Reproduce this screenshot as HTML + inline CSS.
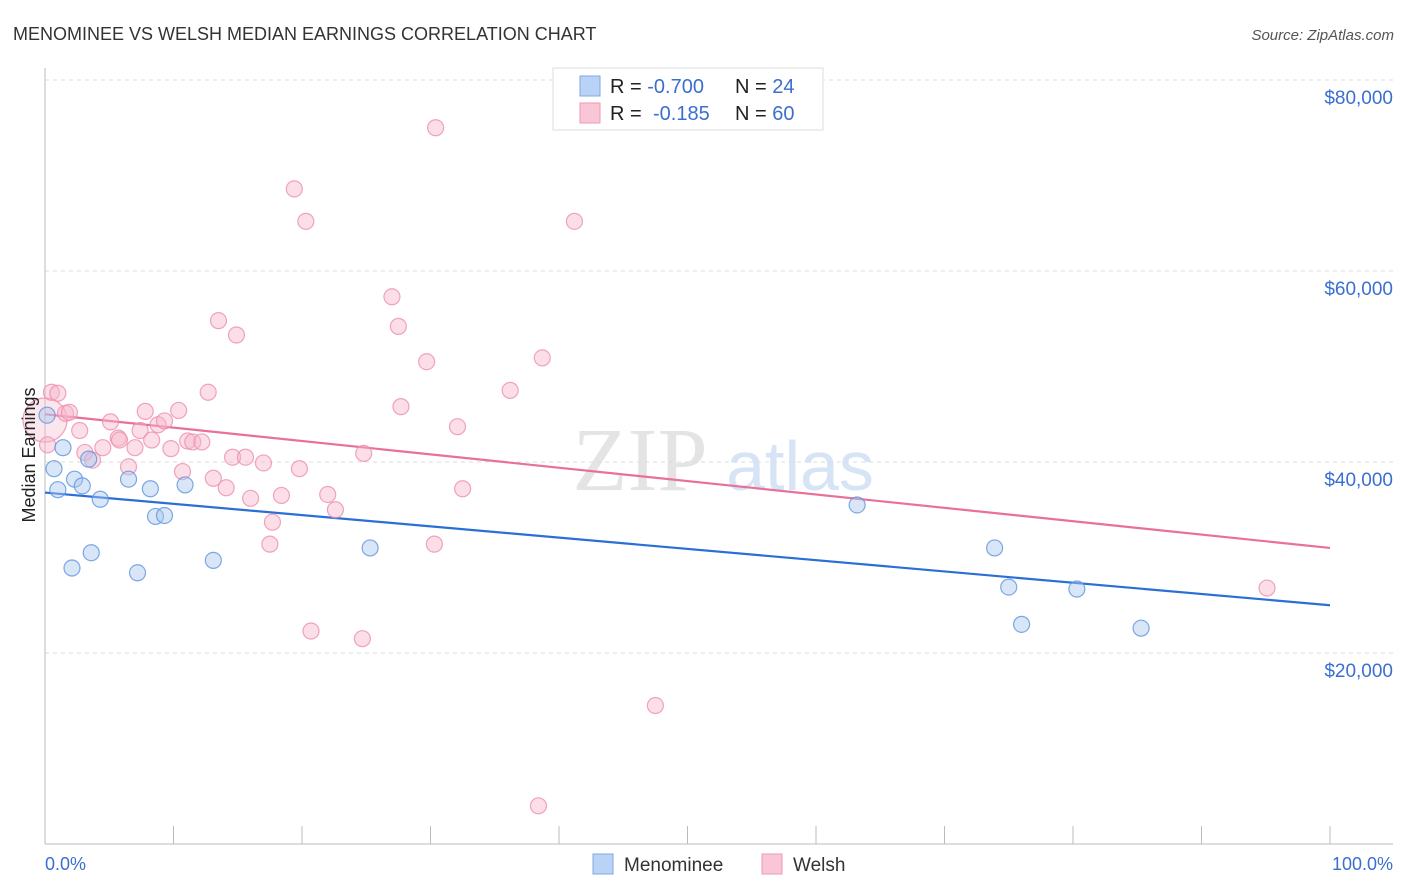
<!DOCTYPE html>
<html><head><meta charset="utf-8"><style>
body{margin:0;background:#fff;font-family:"Liberation Sans",sans-serif;}
svg{display:block}
</style></head><body>
<svg id="chart" width="1406" height="892">
<text x="13" y="40" font-size="18" fill="#333">MENOMINEE VS WELSH MEDIAN EARNINGS CORRELATION CHART</text>
<text x="1394" y="40" font-size="15" fill="#555" font-style="italic" text-anchor="end">Source: ZipAtlas.com</text>
<text x="640" y="490" font-size="90" fill="#e4e4e4" font-family="Liberation Serif,serif" text-anchor="middle">ZIP</text>
<text x="800" y="490" font-size="70" fill="#d6e4f5" text-anchor="middle">atlas</text>
<g id="grid"></g>
<g id="axes"></g>
<g id="lines"></g>
<g id="pts"></g>
<text x="35" y="455" font-size="18" fill="#222" text-anchor="middle" transform="rotate(-90 35 455)">Median Earnings</text>
<text x="45" y="870" font-size="18" fill="#3a6fd0">0.0%</text>
<text x="1393" y="870" font-size="18" fill="#3a6fd0" text-anchor="end">100.0%</text>
<g>
<rect x="553" y="68" width="270" height="62" fill="#fff" stroke="#ddd"/>
<rect x="580" y="76" width="20" height="20" fill="#b8d3f5" stroke="#7fa8e0"/>
<rect x="580" y="103" width="20" height="20" fill="#f9c6d6" stroke="#ec9ab5"/>
<text x="610" y="93" font-size="20" fill="#222">R = <tspan fill="#3a6fd0">-0.700</tspan><tspan x="735">N = </tspan><tspan fill="#3a6fd0">24</tspan></text>
<text x="610" y="120" font-size="20" fill="#222">R = <tspan fill="#3a6fd0" x="653">-0.185</tspan><tspan x="735">N = </tspan><tspan fill="#3a6fd0">60</tspan></text>
</g>
<g>
<rect x="593" y="854" width="20" height="20" fill="#b8d3f5" stroke="#7fa8e0"/>
<text x="624" y="871" font-size="19" fill="#333">Menominee</text>
<rect x="762" y="854" width="20" height="20" fill="#f9c6d6" stroke="#ec9ab5"/>
<text x="793" y="871" font-size="19" fill="#333">Welsh</text>
</g>
</svg>
<script>
const yTicks=[20000,40000,60000,80000];
const yTickLabels=["$20,000","$40,000","$60,000","$80,000"];
const xTicks=[0,10,20,30,40,50,60,70,80,90,100];
const menomineeX=[0.16,0.7,1.4,1.0,2.3,2.1,2.9,3.4,3.6,4.3,6.5,7.2,8.2,8.6,9.3,10.9,13.1,25.3,63.2,73.9,75.0,76.0,80.3,85.3];
const menomineeY=[44900,39300,41500,37100,38200,28900,37500,40300,30500,36100,38200,28400,37200,34300,34400,37600,29700,31000,35500,31000,26900,23000,26700,22600];
const welshX=[0,0.5,1.0,1.6,1.9,2.7,3.1,3.7,4.5,5.1,5.7,6.5,7.0,7.4,7.8,8.3,8.8,9.3,9.8,10.4,10.7,11.1,11.5,12.2,12.7,13.1,13.5,14.1,14.9,14.6,15.6,16.0,17.0,17.5,17.7,18.4,19.4,19.8,20.3,20.7,22.0,22.6,24.7,24.8,27.0,27.5,27.7,29.7,30.3,30.4,32.1,32.5,36.2,38.4,38.7,41.2,47.5,95.1,0.2,5.8];
const welshY=[44400,47300,47200,45100,45200,43300,41000,40200,41500,44200,42500,39500,41500,43300,45300,42300,43900,44300,41400,45400,39000,42200,42100,42100,47300,38300,54800,37300,53300,40500,40500,36200,39900,31400,33700,36500,68600,39300,65200,22300,36600,35000,21500,40900,57300,54200,45800,50500,31400,75000,43700,37200,47500,4000,50900,65200,14500,26800,41800,42300];
const trendStartEnd={menominee:[36800,25000],welsh:[45000,31000]};
const NS="http://www.w3.org/2000/svg";
const X=v=>45+v*12.85, Y=v=>653-(v-20000)*191/20000;
function mk(tag,attrs,parent){const e=document.createElementNS(NS,tag);for(const k in attrs)e.setAttribute(k,attrs[k]);document.getElementById(parent).appendChild(e);return e;}
yTicks.forEach((t,i)=>{
 const l=mk('line',{x1:45,x2:1393,y1:Y(t),y2:Y(t),stroke:'#ddd','stroke-dasharray':'4,4'},'grid');
 
 
 const tx=mk('text',{x:1393,y:Y(t)+24,'font-size':19,fill:'#3a6fd0','text-anchor':'end'},'grid');
 tx.textContent=yTickLabels[i];
 
 
});
const ya=mk('line',{x1:45,x2:45,y1:68,y2:844,stroke:'#bbb'},'axes');


const xa=mk('line',{x1:45,x2:1393,y1:844,y2:844,stroke:'#bbb'},'axes');


xTicks.forEach(t=>{
 const l=mk('line',{x1:X(t),x2:X(t),y1:826,y2:844,stroke:'#bbb'},'axes');
 
 
});
function series(xs,ys,fill,stroke,name){
 xs.forEach((x,i)=>{
  const big=(name==='welsh-point'&&i===0);
  const c=mk('circle',{cx:X(x),cy:Y(ys[i]),r:big?22:8,fill:fill,'fill-opacity':big?0.35:0.45,stroke:stroke,'stroke-width':1.2,'stroke-opacity':0.8},'pts');
  
  
 });
}
series(welshX,welshY,'#f7b6ca','#ec8fae','welsh-point');
series(menomineeX,menomineeY,'#a9c8f0','#5e93dc','menominee-point');
const tw=mk('line',{x1:X(0),x2:X(100),y1:Y(trendStartEnd.welsh[0]),y2:Y(trendStartEnd.welsh[1]),stroke:'#e8709a','stroke-width':2.2},'lines');


const tm=mk('line',{x1:X(0),x2:X(100),y1:Y(trendStartEnd.menominee[0]),y2:Y(trendStartEnd.menominee[1]),stroke:'#2a6fd6','stroke-width':2.2},'lines');


</script>
</body></html>
